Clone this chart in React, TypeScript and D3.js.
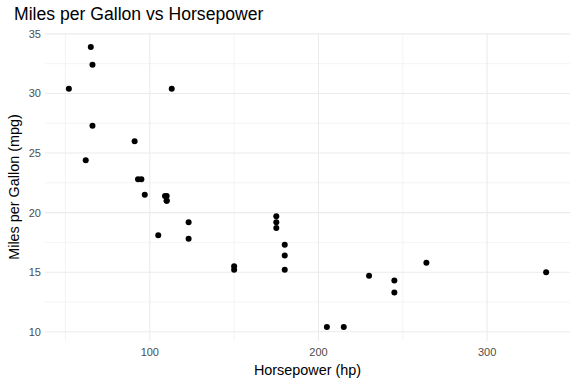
import React from "react";
import * as d3 from "d3";

const hp = [110, 110, 93, 110, 175, 105, 245, 62, 95, 123, 123, 180, 180, 180, 205, 215, 230, 66, 52, 65, 97, 150, 150, 245, 175, 66, 91, 113, 264, 175, 335, 109];
const mpg = [21.0, 21.0, 22.8, 21.4, 18.7, 18.1, 14.3, 24.4, 22.8, 19.2, 17.8, 16.4, 17.3, 15.2, 10.4, 10.4, 14.7, 32.4, 30.4, 33.9, 21.5, 15.5, 15.2, 13.3, 19.2, 27.3, 26.0, 30.4, 15.8, 19.7, 15.0, 21.4];
const xTicks = [100, 200, 300];
const xMinor = [50, 150, 250];
const yTicks = [10, 15, 20, 25, 30, 35];
const yMinor = [12.5, 17.5, 22.5, 27.5, 32.5];

const W = 576, H = 384;
const left = 45, right = 570, top = 33, bottom = 341;

export default function App() {
  const [x0, x1] = d3.extent(hp) as [number, number];
  const [y0, y1] = d3.extent(mpg) as [number, number];
  const ex = (x1 - x0) * 0.05, ey = (y1 - y0) * 0.05;
  const x = d3.scaleLinear().domain([x0 - ex, x1 + ex]).range([left, right]);
  const y = d3.scaleLinear().domain([y0 - ey, y1 + ey]).range([bottom, top]);
  const font = "'Liberation Sans', Arial, sans-serif";
  return (
    <svg width={W} height={H} style={{ position: "absolute", left: 0, top: 0, fontFamily: font }}>
      <rect width={W} height={H} fill="#fff" />
      {xMinor.map((t) => (
        <line key={"xm" + t} x1={x(t)} x2={x(t)} y1={top} y2={bottom} stroke="#EBEBEB" strokeWidth={0.53} />
      ))}
      {yMinor.map((t) => (
        <line key={"ym" + t} x1={left} x2={right} y1={y(t)} y2={y(t)} stroke="#EBEBEB" strokeWidth={0.53} />
      ))}
      {xTicks.map((t) => (
        <line key={"xM" + t} x1={x(t)} x2={x(t)} y1={top} y2={bottom} stroke="#EBEBEB" strokeWidth={1.07} />
      ))}
      {yTicks.map((t) => (
        <line key={"yM" + t} x1={left} x2={right} y1={y(t)} y2={y(t)} stroke="#EBEBEB" strokeWidth={1.07} />
      ))}
      {hp.map((h, i) => (
        <circle key={i} cx={x(h)} cy={y(mpg[i])} r={3} fill="#000" />
      ))}
      {xTicks.map((t) => (
        <text key={"xl" + t} x={x(t)} y={bottom + 15} textAnchor="middle" fontSize={11} fill="#4D4D4D">{t}</text>
      ))}
      {yTicks.map((t) => (
        <text key={"yl" + t} x={left - 4} y={y(t) + 4} textAnchor="end" fontSize={11} fill="#4D4D4D">{t}</text>
      ))}
      <text x={(left + right) / 2} y={375} textAnchor="middle" fontSize={14.4} fill="#000">Horsepower (hp)</text>
      <text transform={`translate(19,${(top + bottom) / 2}) rotate(-90)`} textAnchor="middle" fontSize={14.4} fill="#000">Miles per Gallon (mpg)</text>
      <text x={14} y={20} fontSize={17.6} fill="#000">Miles per Gallon vs Horsepower</text>
    </svg>
  );
}
